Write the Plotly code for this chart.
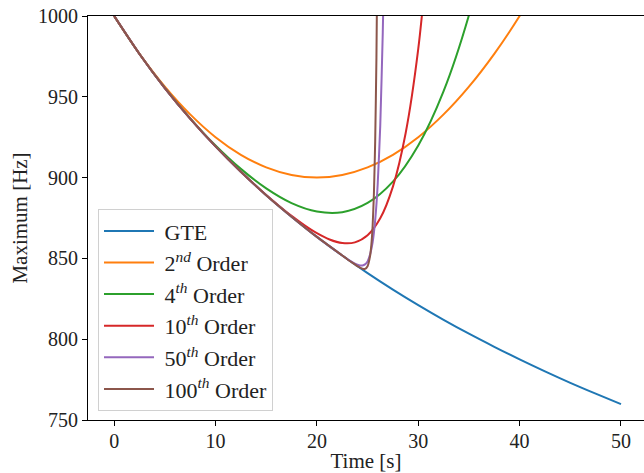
import plotly.graph_objects as go

# Time samples [s] and maximum frequency [Hz] for the exact solution (GTE)
t_gte = [0, 2.5, 5, 7.5, 10, 12.5, 15, 17.5, 20, 22.5, 25, 27.5, 30,
         32.5, 35, 37.5, 40, 42.5, 45, 47.5, 50]
f_gte = [1000, 976.5, 955.4, 936.5, 919.3, 903.6, 889.1, 875.8, 863.3, 851.8,
         840.9, 830.7, 821.1, 812.0, 803.4, 795.3, 787.5, 780.1, 773.0, 766.3,
         759.8]

# 2nd order expansion
t_o2 = [0, 2.5, 5, 7.5, 10, 12.5, 15, 17.5, 20, 22.5, 25, 27.5, 30, 32.5,
        35, 37.5, 40, 42.5]
f_o2 = [1000, 976.6, 956.3, 939.1, 925.0, 914.1, 906.3, 901.6, 900.0, 901.6,
        906.3, 914.1, 925.0, 939.1, 956.3, 976.6, 1000.0, 1026.6]

# 4th order expansion
t_o4 = [0, 2.5, 5, 7.5, 10, 12.5, 15, 17.5, 20, 22.5, 25, 27.5, 30, 32.5,
        35, 37.5]
f_o4 = [1000, 976.5, 955.5, 936.7, 919.9, 905.4, 893.3, 884.2, 879.0, 878.6,
        884.3, 897.5, 919.9, 953.5, 1000.5, 1063.1]

# 10th order expansion
t_o10 = [0, 2.5, 5, 7.5, 10, 12.5, 15, 16.25, 17.5, 18.75, 20, 21.25, 22.5,
         23.75, 25, 26.25, 27.5, 28.75, 30, 31.25]
f_o10 = [1000, 976.5, 955.4, 936.5, 919.3, 903.6, 889.2, 882.6, 876.3, 870.6,
         865.6, 861.7, 859.5, 859.9, 864.3, 874.8, 894.4, 927.3, 979.6, 1059.6]

# 50th order expansion
t_o50 = [0, 2.5, 5, 7.5, 10, 12.5, 15, 17.5, 20, 22.5, 23, 23.75, 24, 24.25,
         24.5, 24.75, 25, 25.25, 25.5, 25.75, 26, 26.25, 26.5, 26.75]
f_o50 = [1000, 976.5, 955.4, 936.5, 919.3, 903.6, 889.1, 875.8, 863.3, 851.8,
         849.6, 846.8, 846.1, 845.6, 845.6, 846.3, 848.1, 852.5, 860.0, 873.5,
         896.0, 932.0, 990.0, 1070.0]

# 100th order expansion
t_o100 = [0, 2.5, 5, 7.5, 10, 12.5, 15, 17.5, 20, 22.5, 23, 23.75, 24, 24.25,
          24.5, 24.75, 25, 25.25, 25.375, 25.5, 25.625, 25.75, 25.875, 26]
f_o100 = [1000, 976.5, 955.4, 936.5, 919.3, 903.6, 889.1, 875.8, 863.3, 851.8,
          849.5, 846.3, 845.2, 844.3, 843.6, 843.5, 845.2, 851.6, 858.6, 870.4,
          890.0, 922.1, 974.5, 1059.4]

x_ticks = [0, 10, 20, 30, 40, 50]
y_ticks = [750, 800, 850, 900, 950, 1000]

NB = "\u00a0"
series = [
    (NB + "GTE", t_gte, f_gte, "#1f77b4", 1.0),
    (NB + "2<sup><i>nd</i></sup> Order", t_o2, f_o2, "#ff7f0e", 1.0),
    (NB + "4<sup><i>th</i></sup> Order", t_o4, f_o4, "#2ca02c", 1.0),
    (NB + "10<sup><i>th</i></sup> Order", t_o10, f_o10, "#d62728", 0.8),
    (NB + "50<sup><i>th</i></sup> Order", t_o50, f_o50, "#9467bd", 0.5),
    (NB + "100<sup><i>th</i></sup> Order", t_o100, f_o100, "#8c564b", 0.5),
]

FONT = "Liberation Serif"

fig = go.Figure()
for i, (name, tx, fy, color, smooth) in enumerate(series):
    fig.add_trace(go.Scatter(
        x=tx, y=fy, mode="lines", name=name, legendgroup=f"g{i}",
        line=dict(color=color, width=2, shape="spline", smoothing=smooth),
    ))

axis_common = dict(
    showgrid=False, zeroline=False, showline=True, linecolor="black",
    linewidth=1, ticks="outside", ticklen=5, tickwidth=1, tickcolor="black",
    tickfont=dict(family=FONT, size=20, color="#222"),
)

fig.update_layout(
    width=644, height=473,
    margin=dict(l=88, r=0, t=16, b=53),
    paper_bgcolor="white", plot_bgcolor="white",
    font=dict(family=FONT, size=20, color="#222"),
    xaxis=dict(range=[-2.58, 52.27], tickvals=x_ticks, mirror=True,
               ticklabelstandoff=-2,
               title=dict(text="Time [s]", standoff=2,
                          font=dict(family=FONT, size=21)),
               **axis_common),
    yaxis=dict(range=[750, 1000], tickvals=y_ticks,
               title=dict(text="Maximum [Hz]", standoff=4,
                          font=dict(family=FONT, size=21)),
               **axis_common),
    legend=dict(x=0.018, y=0.022, xanchor="left", yanchor="bottom",
                bgcolor="rgba(255,255,255,0.85)", bordercolor="#d0d0d0",
                borderwidth=1, tracegroupgap=0, itemwidth=50,
                font=dict(family=FONT, size=22, color="#222")),
    showlegend=True,
)

fig.write_html("out.html")
